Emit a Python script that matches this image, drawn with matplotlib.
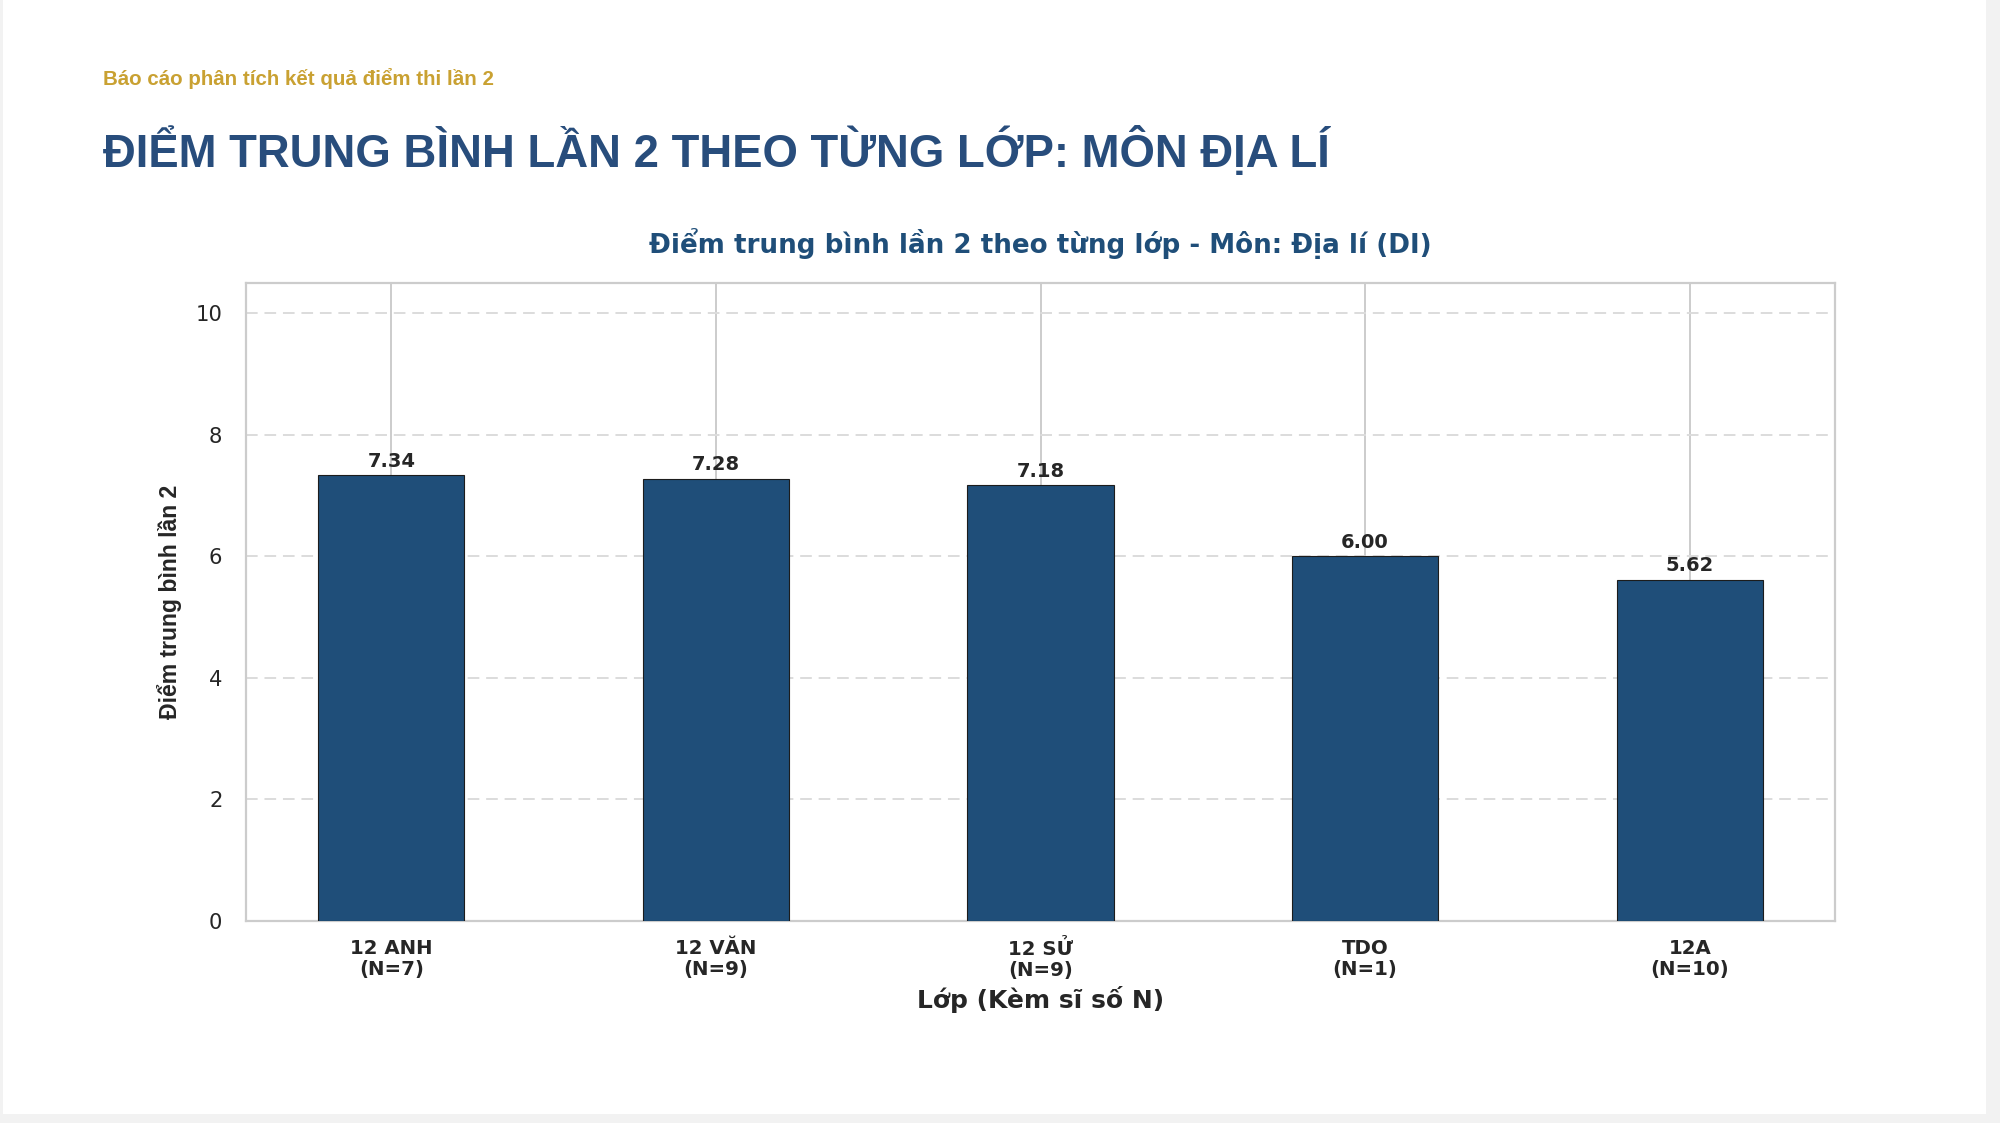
import matplotlib
matplotlib.use('Agg')
import matplotlib.pyplot as plt
from matplotlib.patches import Rectangle

# data
classes = ['12 ANH', '12 VĂN', '12 SỬ', 'TDO', '12A']
counts = [7, 9, 9, 1, 10]
scores = [7.34, 7.28, 7.18, 6.00, 5.62]
y_ticks = [0, 2, 4, 6, 8, 10]

W, H = 2000, 1123
plt.rcParams['font.family'] = ['DejaVu Sans']

fig = plt.figure(figsize=(W / 100, H / 100), dpi=100, facecolor='#f2f2f2')

# white page card, kept behind the axes
card = Rectangle((3 / W, 1 - 1114 / H), (1986 - 3) / W, 1114 / H,
                 transform=fig.transFigure, facecolor='white',
                 edgecolor='none', zorder=-10)
fig.patches.append(card)

head = ['Liberation Sans', 'DejaVu Sans']
fig.text(103 / W, 1 - 85 / H, 'Báo cáo phân tích kết quả điểm thi lần 2',
         family=head, weight='bold', size=14.8, color='#c9a132', va='baseline')
fig.text(103 / W, 1 - 167 / H, 'ĐIỂM TRUNG BÌNH LẦN 2 THEO TỪNG LỚP: MÔN ĐỊA LÍ',
         family=head, weight='bold', size=32.8, color='#284d7c', va='baseline')

ax = fig.add_axes([246 / W, 1 - 921 / H, (1835 - 246) / W, (921 - 283) / H])
ax.set_facecolor('white')

x = list(range(len(classes)))
ax.bar(x, scores, width=0.45, color='#1f4e79', edgecolor='#1c1c1c',
       linewidth=0.8, zorder=3)

for xi, v in zip(x, scores):
    ax.annotate(f'{v:.2f}', (xi, v), xytext=(0, 3), textcoords='offset points',
                ha='center', va='bottom', fontsize=14, fontweight='bold',
                color='#262626', zorder=4)

ax.set_ylim(0, 10.5)
ax.set_yticks(y_ticks)
labels = [f'{c}\n(N={n})' for c, n in zip(classes, counts)]
ax.set_xticks(x, labels=labels, fontweight='bold', linespacing=1.15)

ax.set_axisbelow(True)
ax.xaxis.grid(True, color='#cccccc', lw=1.4)
ax.yaxis.grid(True, color='#dcdcdc', lw=1.4, linestyle=(0, (6, 3.5)))
for s in ax.spines.values():
    s.set_color('#cccccc')
    s.set_linewidth(1.6)

ax.tick_params(axis='y', length=0, pad=17, labelsize=15.2, labelcolor='#262626')
ax.tick_params(axis='x', length=0, pad=13, labelsize=14.2, labelcolor='#262626')

ax.set_ylabel('Điểm trung bình lần 2', family=head, fontsize=16.6,
              fontweight='bold', color='#262626')
ax.yaxis.set_label_coords(-0.040, 0.5)
ax.set_xlabel('Lớp (Kèm sĩ số N)', fontsize=18, fontweight='bold', color='#262626')
ax.xaxis.set_label_coords(0.5, -(986 - 921) / 638)

ax.text(0.5, (921 - 253) / 638, 'Điểm trung bình lần 2 theo từng lớp - Môn: Địa lí (DI)',
        transform=ax.transAxes, ha='center', va='baseline', fontsize=18.8,
        fontweight='bold', color='#1f4e79')

fig.savefig('out.png', dpi=100, facecolor=fig.get_facecolor())
